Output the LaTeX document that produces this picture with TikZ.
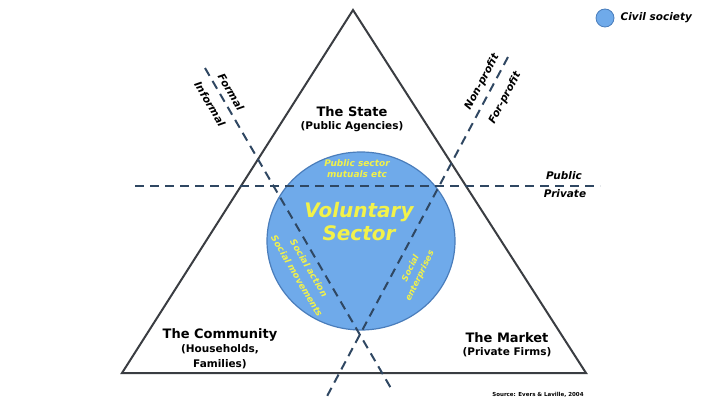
\documentclass[tikz,border=0pt]{standalone}
\usepackage{fontspec}
\setmainfont{DejaVu Sans}
\usetikzlibrary{positioning, shapes.geometric}
\definecolor{civilBlue}{HTML}{6FAAEA}
\definecolor{civilEdge}{HTML}{4A7DBB}
\definecolor{voluntaryYellow}{HTML}{F2F24A}
\definecolor{divideSlate}{HTML}{2F4762}
\definecolor{edgeGrey}{HTML}{3A3D42}

\tikzset{
  sectorTitle/.style={font=\fontsize{13}{15}\selectfont\bfseries, inner sep=1pt},
  sectorSub/.style={font=\fontsize{10.5}{15}\selectfont\bfseries, align=center, inner sep=1pt},
  divideLine/.style={draw=divideSlate, line width=2pt, dash pattern=on 9pt off 6pt},
  divideLabel/.style={font=\fontsize{10.5}{12}\selectfont\bfseries\itshape, inner sep=1pt},
  innerLabel/.style={font=\fontsize{9}{11}\selectfont\bfseries\itshape, text=voluntaryYellow, align=center, inner sep=0pt},
}

\begin{document}
\begin{tikzpicture}[x=1pt, y=-1pt]
  \useasboundingbox (0,0) rectangle (720,404);

  % Triangle of the three sectors
  \coordinate (apex) at (353,10);
  \coordinate (leftfoot) at (122,373);
  \coordinate (rightfoot) at (586,373);
  \draw[edgeGrey, line width=2pt, line join=miter] (apex) -- (leftfoot) -- (rightfoot) -- cycle;

  % Civil society circle
  \node[ellipse, fill=civilBlue, draw=civilEdge, line width=1.2pt,
        minimum width=188pt, minimum height=178pt] (voluntary) at (361,241) {};

  % Dividing lines
  \coordinate (pubW) at (135,186);
  \coordinate (pubE) at (600,186);
  \coordinate (formN) at (205,68);
  \coordinate (formS) at (392,390);
  \coordinate (profN) at (508,57);
  \coordinate (profS) at (325,400);
  \draw[divideLine] (pubW) -- (pubE);
  \draw[divideLine] (formN) -- (formS);
  \draw[divideLine] (profN) -- (profS);

  % Line labels
  \node[divideLabel] (public) at (564,176) {Public};
  \node[divideLabel] (private) at (565,194) {Private};
  \node[divideLabel, rotate=-59.6] (formal) at (231,92) {Formal};
  \node[divideLabel, rotate=-59.6] (informal) at (210,104) {Informal};
  \node[divideLabel, rotate=61.8] (nonprofit) at (482,82) {Non-profit};
  \node[divideLabel, rotate=61.8] (forprofit) at (505,98) {For-profit};

  % Sectors
  \node[sectorTitle] (state) at (352,112) {The State};
  \node[sectorSub, below=2pt of state] (stateSub) {(Public Agencies)};
  \node[sectorTitle] (community) at (220,335) {The Community};
  \node[sectorSub, below=1pt of community] (communitySub) {(Households,\\Families)};
  \node[sectorTitle] (market) at (507,338) {The Market};
  \node[sectorSub, below=2pt of market] (marketSub) {(Private Firms)};

  % Inside the circle
  \node[innerLabel, font=\fontsize{20}{23}\selectfont\bfseries\itshape] (volTitle) at (359,222) {Voluntary\\Sector};
  \node[innerLabel] (mutuals) at (357,169) {Public sector\\mutuals etc};
  \node[innerLabel, rotate=-59.6] (socialAction) at (309,268) {Social action};
  \node[innerLabel, rotate=-59.6] (socialMove) at (297,276) {Social movements};
  \node[innerLabel, font=\fontsize{8.5}{10}\selectfont\bfseries\itshape, rotate=64] (social) at (410,268) {Social};
  \node[innerLabel, font=\fontsize{8.5}{10}\selectfont\bfseries\itshape, rotate=64] (enterprise) at (420,276) {enterprises};

  % Legend and source
  \node[circle, fill=civilBlue, draw=civilEdge, line width=0.8pt, minimum size=18pt, inner sep=0pt] (legendDot) at (605,18) {};
  \node[divideLabel, right=5pt of legendDot] (legendText) {Civil society};
  \node[font=\fontsize{5.5}{6}\selectfont\bfseries, inner sep=0pt] (source) at (538,395) {Source: Evers \& Laville, 2004};
\end{tikzpicture}
\end{document}
